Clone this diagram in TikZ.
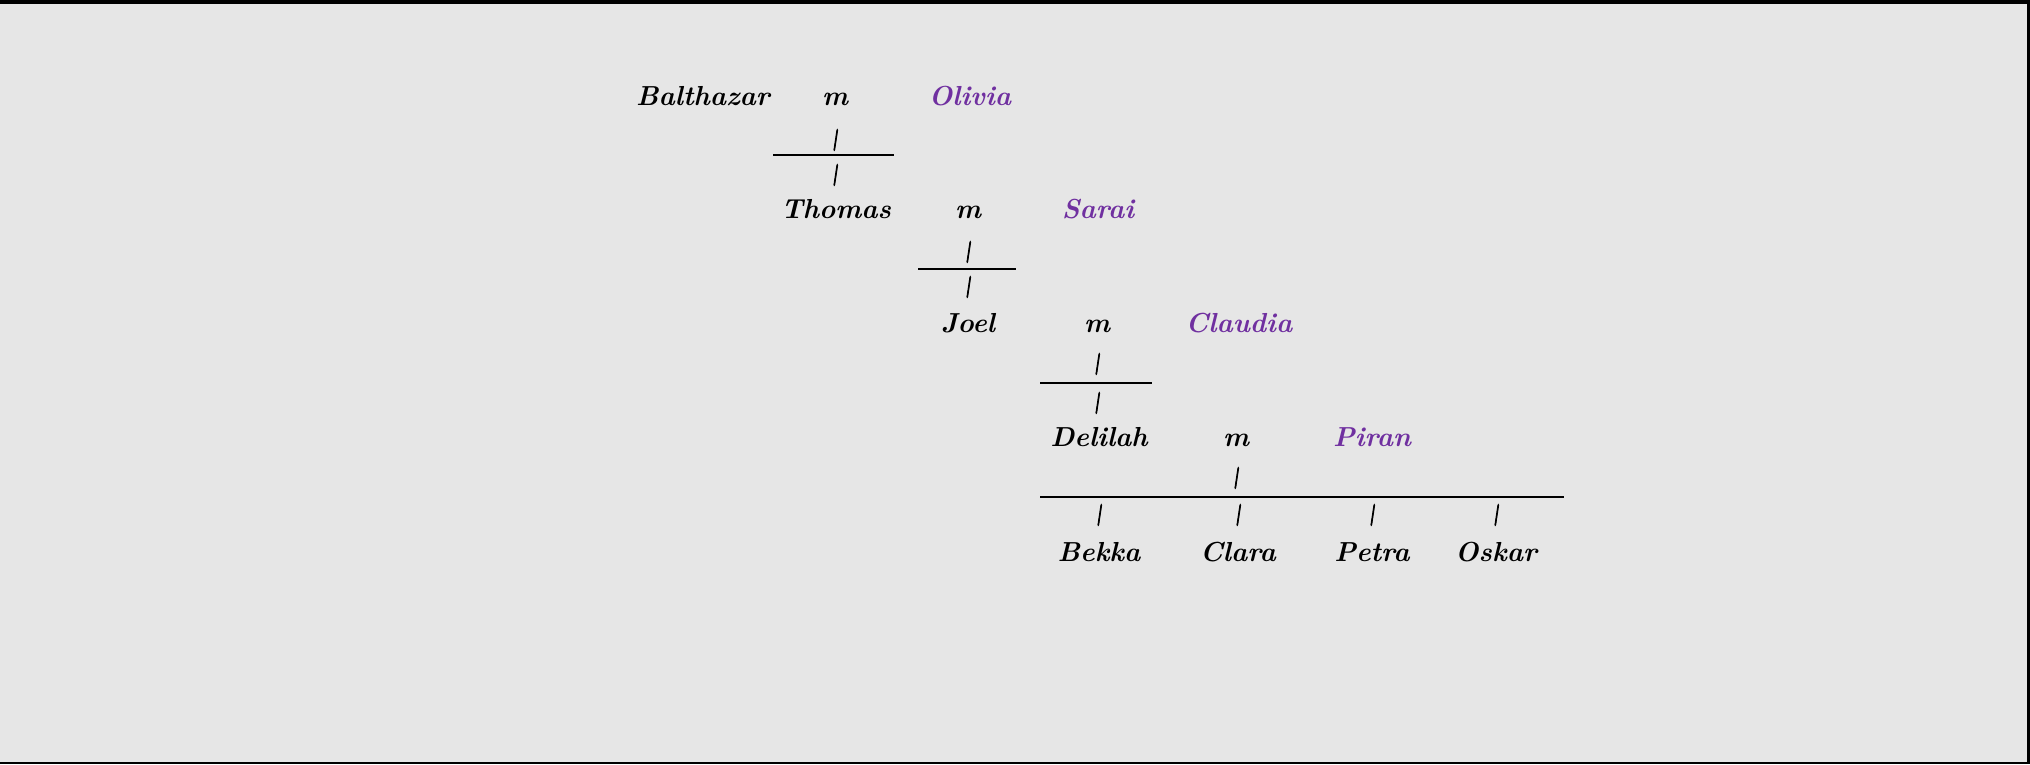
\documentclass[tikz,border=0pt]{standalone}
\usepackage{fontspec}
\definecolor{bggray}{HTML}{E6E6E6}
\definecolor{wifeviolet}{HTML}{7030A0}
\newfontfamily\barfam[FakeBold=4,FakeSlant=0.15]{Latin Modern Roman}
\newcommand{\treefont}{\fontsize{27.5}{32}\selectfont\bfseries\itshape}
\newcommand{\barfont}{\barfam\fontsize{21}{24}\selectfont}
\begin{document}
\begin{tikzpicture}
  [x=1pt,y=-1pt,every node/.style={font=\treefont,inner sep=0pt,anchor=base},
   wife/.style={text=wifeviolet},bar/.style={anchor=center,font=\barfont}]
  % page and its frame
  \fill[bggray] (0,0) rectangle (2030,764);
  \fill[black] (0,0) rectangle (2030,4);
  \fill[black] (2027,0) rectangle (2030,764);
  \fill[black] (0,762) rectangle (2030,764);

  \node (balthazar) at (703,105) {Balthazar};
  \node (m1) at (835,105) {m};
  \node[wife] (olivia) at (970,105) {Olivia};
  \node[bar] (s1a) at (835,140) {|};
  \coordinate (l1w) at (773,155);
  \coordinate (l1e) at (894,155);
  \node[bar] (s1b) at (835,175) {|};

  \node (thomas) at (836,218) {Thomas};
  \node (m2) at (968,218) {m};
  \node[wife] (sarai) at (1098,218) {Sarai};
  \node[bar] (s2a) at (968,252) {|};
  \coordinate (l2w) at (918,269);
  \coordinate (l2e) at (1016,269);
  \node[bar] (s2b) at (968,287) {|};

  \node (joel) at (968,332) {Joel};
  \node (m3) at (1097,332) {m};
  \node[wife] (claudia) at (1239,332) {Claudia};
  \node[bar] (s3a) at (1097,364) {|};
  \coordinate (l3w) at (1040,383);
  \coordinate (l3e) at (1152,383);
  \node[bar] (s3b) at (1097,403) {|};

  \node (delilah) at (1099,446) {Delilah};
  \node (m4) at (1236,446) {m};
  \node[wife] (piran) at (1372,446) {Piran};
  \node[bar] (s4) at (1236,478) {|};
  \coordinate (l4w) at (1040,497);
  \coordinate (l4e) at (1564,497);

  \node[bar] (s5a) at (1099,515) {|};
  \node[bar] (s5b) at (1238,515) {|};
  \node[bar] (s5c) at (1372,515) {|};
  \node[bar] (s5d) at (1496,515) {|};
  \node (bekka) at (1099,561) {Bekka};
  \node (clara) at (1238,561) {Clara};
  \node (petra) at (1372,561) {Petra};
  \node (oskar) at (1496,561) {Oskar};

  \foreach \from/\to in {l1w/l1e,l2w/l2e,l3w/l3e,l4w/l4e}
    \draw[line width=2pt] (\from) -- (\to);
\end{tikzpicture}
\end{document}
